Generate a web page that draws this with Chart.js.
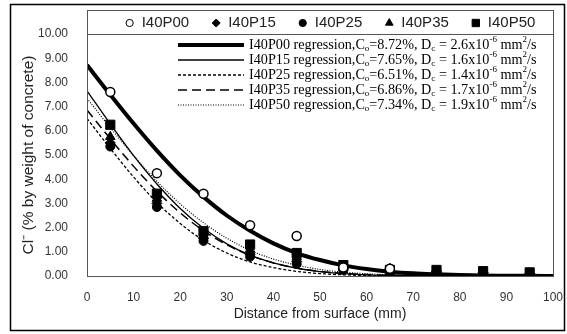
<!DOCTYPE html>
<html>
<head>
<meta charset="utf-8">
<script src="https://cdn.jsdelivr.net/npm/chart.js@4.4.1/dist/chart.umd.min.js"></script>
<style>
  html, body { margin: 0; padding: 0; background: #fff; }
  #wrap { width: 567px; height: 334px; }
</style>
</head>
<body>
<div id="wrap"><canvas id="chart" width="567" height="334"></canvas></div>
<script>
// measured chloride content (% by weight of concrete) at each depth
const depths = [5, 15, 25, 35, 45, 55, 65, 75, 85, 95]
const p00 = [7.6, 4.25, 3.4, 2.1, 1.65, 0.35, 0.3, null, null, null]
const p15 = [5.5, 3.0, 1.55, 0.9, 0.6, 0.3, 0.25, 0.2, 0.15, 0.1]
const p25 = [5.35, 2.85, 1.45, 0.8, 0.5, 0.25, 0.3, 0.15, 0.1, 0.05]
const p35 = [5.75, 3.2, 1.7, 1.1, 0.8, 0.35, 0.3, 0.2, 0.15, 0.1]
const p50 = [6.25, 3.4, 1.85, 1.3, 0.95, 0.45, 0.25, 0.25, 0.2, 0.15]

// regression curves
const fitDepths = [0, 5, 10, 15, 20, 25, 30, 35, 40, 45, 50, 55, 60, 65, 70, 75, 80, 85, 90, 95, 100]
const fitP00 = [8.72, 7.49, 6.3, 5.18, 4.16, 3.27, 2.5, 1.87, 1.35, 0.95, 0.66, 0.44, 0.29, 0.18, 0.11, 0.07, 0.04, 0.02, 0.01, 0.01, 0]
const fitP15 = [7.65, 6.28, 4.97, 3.8, 2.79, 1.97, 1.33, 0.86, 0.54, 0.32, 0.18, 0.1, 0.05, 0.02, 0.01, 0, 0, 0, 0, 0, 0]
const fitP25 = [6.51, 5.27, 4.09, 3.04, 2.17, 1.47, 0.95, 0.58, 0.35, 0.19, 0.1, 0.05, 0.02, 0.01, 0, 0, 0, 0, 0, 0, 0]
const fitP35 = [6.86, 5.67, 4.53, 3.5, 2.61, 1.87, 1.29, 0.85, 0.54, 0.33, 0.19, 0.11, 0.06, 0.03, 0.01, 0, 0, 0, 0, 0, 0]
const fitP50 = [7.34, 6.13, 4.97, 3.91, 2.98, 2.2, 1.56, 1.06, 0.7, 0.45, 0.27, 0.16, 0.09, 0.05, 0.03, 0.01, 0, 0, 0, 0, 0]

const seriesNames = ["I40P00", "I40P15", "I40P25", "I40P35", "I40P50"]
const coValues = ["8.72", "7.65", "6.51", "6.86", "7.34"]
const dcValues = ["2.6", "1.6", "1.4", "1.7", "1.9"]

const xTicks = [0, 10, 20, 30, 40, 50, 60, 70, 80, 90, 100]
const yTicks = [0, 1, 2, 3, 4, 5, 6, 7, 8, 9, 10]

const measured = [p00, p15, p25, p35, p50]
const fits = [fitP00, fitP15, fitP25, fitP35, fitP50]

const markers = [
  { pointStyle: "circle", radius: 4.5, fill: "#fff", borderWidth: 1.5 },
  { pointStyle: "rectRot", radius: 5, fill: "#000", borderWidth: 1 },
  { pointStyle: "circle", radius: 4.5, fill: "#000", borderWidth: 1 },
  { pointStyle: "triangle", radius: 5.5, fill: "#000", borderWidth: 1 },
  { pointStyle: "rect", radius: 6.5, fill: "#000", borderWidth: 1 },
]

const lineStyles = [
  { width: 4, dash: [] },
  { width: 1.3, dash: [] },
  { width: 1.3, dash: [3, 2] },
  { width: 1.5, dash: [9, 5] },
  { width: 1.2, dash: [1, 1.5] },
]

const toPoints = (xs, ys) => xs.map((x, i) => ({ x: x, y: ys[i] })).filter((p) => p.y !== null)

const datasets = []
measured.forEach((values, i) => {
  const m = markers[i]
  datasets.push({
    type: "scatter",
    label: seriesNames[i],
    data: toPoints(depths, values),
    pointStyle: m.pointStyle,
    pointRadius: m.radius,
    pointBackgroundColor: m.fill,
    pointBorderColor: "#000",
    pointBorderWidth: m.borderWidth,
    order: 0,
  })
})
fits.forEach((values, i) => {
  const s = lineStyles[i]
  datasets.push({
    type: "line",
    label: seriesNames[i] + " regression",
    data: toPoints(fitDepths, values),
    borderColor: "#000",
    borderWidth: s.width,
    borderDash: s.dash,
    pointRadius: 0,
    fill: false,
    cubicInterpolationMode: "monotone",
    order: 1,
  })
})

function drawRich(ctx, parts, x, y, size) {
  parts.forEach((p) => {
    if (p.sub || p.sup) {
      ctx.font = `${Math.round(size * 0.62)}px "Liberation Serif", "Times New Roman", serif`
      ctx.fillText(p.t, x, p.sub ? y + size * 0.28 : y - size * 0.38)
    } else {
      ctx.font = `${size}px "Liberation Serif", "Times New Roman", serif`
      ctx.fillText(p.t, x, y)
    }
    x += ctx.measureText(p.t).width
  })
}

const decorPlugin = {
  id: "decor",
  beforeDraw(chart) {
    const { ctx } = chart
    ctx.save()
    ctx.fillStyle = "#fff"
    ctx.fillRect(0, 0, chart.width, chart.height)
    ctx.restore()
  },
  afterDraw(chart) {
    const { ctx } = chart
    const xs = chart.scales.x
    const ys = chart.scales.y
    const left = Math.round(xs.getPixelForValue(0))
    const right = Math.round(xs.getPixelForValue(100))
    const top = Math.round(ys.getPixelForValue(10))
    const bottom = Math.round(ys.getPixelForValue(0))
    ctx.save()

    // outer frame
    ctx.strokeStyle = "#000"
    ctx.lineWidth = 1.5
    ctx.strokeRect(10.5, 4.5, 554, 326)

    // plot frame
    ctx.lineWidth = 1
    ctx.strokeStyle = "#555"
    ctx.strokeRect(left + 0.5, top + 0.5, right - left, bottom - top)

    // marker legend box above the plot
    const boxTop = 10
    ctx.strokeRect(left + 0.5, boxTop + 0.5, right - left, top - boxTop)

    ctx.font = '15px "Liberation Sans", Arial, sans-serif'
    ctx.textBaseline = "middle"
    const gap = 7
    const itemPad = 22
    const widths = seriesNames.map((n) => 10 + gap + ctx.measureText(n).width)
    const total = widths.reduce((a, b) => a + b, 0) + itemPad * (widths.length - 1)
    let x = (left + right) / 2 - total / 2 + 10
    const ly = (boxTop + top) / 2 + 1
    seriesNames.forEach((name, i) => {
      const m = markers[i]
      ctx.fillStyle = m.fill
      ctx.strokeStyle = "#000"
      Chart.helpers.drawPoint(ctx, { pointStyle: m.pointStyle, radius: m.radius * 0.8, rotation: 0, borderWidth: m.borderWidth }, x + 5, ly)
      ctx.fillStyle = "#222"
      ctx.fillText(name, x + 10 + gap, ly)
      x += widths[i] + itemPad
    })

    // regression legend
    const rowY = [45, 60, 75, 90, 105]
    const fs = 14.2
    ctx.textBaseline = "middle"
    seriesNames.forEach((name, i) => {
      const s = lineStyles[i]
      const y = rowY[i]
      ctx.beginPath()
      ctx.setLineDash(s.dash)
      ctx.lineWidth = s.width
      ctx.strokeStyle = "#000"
      ctx.moveTo(178, y)
      ctx.lineTo(244, y)
      ctx.stroke()
      ctx.setLineDash([])
      ctx.fillStyle = "#000"
      drawRich(ctx, [
        { t: name + " regression,C" },
        { t: "o", sub: true },
        { t: "=" + coValues[i] + "%, D" },
        { t: "c", sub: true },
        { t: " = " + dcValues[i] + "x10" },
        { t: "-6", sup: true },
        { t: " mm" },
        { t: "2", sup: true },
        { t: "/s" },
      ], 249, y, fs)
    })

    ctx.restore()
  },
}

new Chart(document.getElementById("chart"), {
  data: { datasets: datasets },
  options: {
    responsive: false,
    animation: false,
    layout: { padding: { left: 12, right: 14, top: 34, bottom: 10 } },
    scales: {
      x: {
        type: "linear",
        min: 0,
        max: 100,
        afterFit: (scale) => {
          scale.height = 48
          scale.paddingLeft = 0
          scale.paddingRight = 0
        },
        afterBuildTicks: (scale) => { scale.ticks = xTicks.map((v) => ({ value: v })) },
        grid: { display: false, drawTicks: false },
        border: { display: false },
        ticks: { padding: 14, color: "#333", font: { family: '"Liberation Sans", Arial, sans-serif', size: 12 } },
        title: {
          display: true,
          text: "Distance from surface (mm)",
          color: "#222",
          padding: { top: 0, bottom: 1 },
          font: { family: '"Liberation Sans", Arial, sans-serif', size: 14 },
        },
      },
      y: {
        type: "linear",
        min: 0,
        max: 10,
        afterFit: (scale) => { scale.width = 75 },
        afterBuildTicks: (scale) => { scale.ticks = yTicks.map((v) => ({ value: v })) },
        grid: { display: false, drawTicks: false },
        border: { display: false },
        ticks: {
          padding: 19,
          color: "#333",
          font: { family: '"Liberation Sans", Arial, sans-serif', size: 12 },
          callback: (value) => value.toFixed(2),
        },
        title: {
          display: true,
          text: "Cl\u207B (% by weight of concrete)",
          color: "#222",
          padding: { top: 7, bottom: 0 },
          font: { family: '"Liberation Sans", Arial, sans-serif', size: 15.5 },
        },
      },
    },
    plugins: {
      legend: { display: false },
      tooltip: { enabled: false },
    },
  },
  plugins: [decorPlugin],
})
</script>
</body>
</html>
